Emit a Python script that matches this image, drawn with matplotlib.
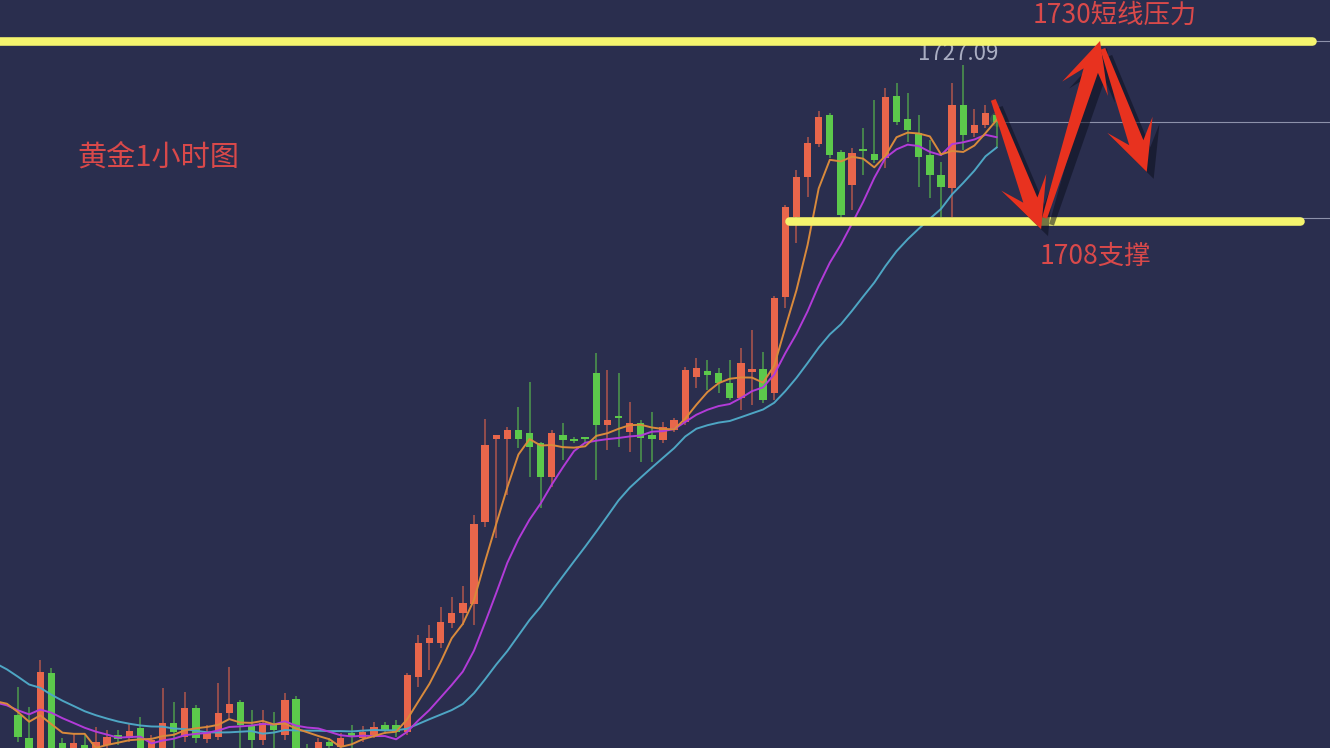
import numpy as np
import pandas as pd
import matplotlib
matplotlib.use('Agg')
import matplotlib.pyplot as plt
import matplotlib.patheffects as pe
from matplotlib.patches import Polygon

plt.rcParams['font.family'] = ['Noto Sans CJK SC', 'DejaVu Sans']
plt.rcParams['axes.unicode_minus'] = False

# 黄金1小时K线：开、高、低、收
opens = [1647.6, 1644.8, 1642.6, 1652.8, 1644.2, 1642.7, 1644.0, 1643.1, 1644.0, 1645.2,
         1644.8, 1646.0, 1643.1, 1643.3, 1646.6, 1644.9, 1648.5, 1644.7, 1644.9, 1647.9,
         1649.2, 1646.4, 1644.6, 1646.4, 1645.2, 1649.6, 1643.6, 1643.1, 1644.3, 1643.7,
         1645.4, 1644.8, 1645.2, 1646.4, 1646.4, 1645.5, 1652.3, 1656.4, 1656.4, 1658.9,
         1660.1, 1661.2, 1671.2, 1681.4, 1681.4, 1682.5, 1682.1, 1680.9, 1676.7, 1681.8,
         1681.4, 1681.4, 1689.4, 1683.1, 1684.2, 1682.2, 1683.3, 1681.8, 1681.2, 1682.5,
         1683.4, 1688.9, 1689.7, 1689.4, 1688.2, 1686.4, 1689.5, 1689.9, 1687.0, 1698.7,
         1708.5, 1713.4, 1717.4, 1720.9, 1716.4, 1712.4, 1716.5, 1716.2, 1715.7, 1723.3,
         1720.5, 1718.7, 1716.1, 1713.6, 1712.0, 1722.2, 1718.7, 1719.7, 1721.0]
highs = [1651.1, 1648.6, 1654.3, 1653.4, 1644.8, 1645.4, 1645.2, 1646.2, 1645.8, 1645.8,
         1646.6, 1647.4, 1645.2, 1650.9, 1649.2, 1650.4, 1648.8, 1646.4, 1651.5, 1653.5,
         1649.5, 1648.2, 1648.2, 1648.0, 1650.3, 1649.9, 1644.1, 1644.8, 1644.8, 1645.4,
         1646.4, 1646.3, 1646.8, 1646.8, 1647.0, 1652.8, 1657.4, 1658.6, 1660.8, 1662.0,
         1663.4, 1672.1, 1683.8, 1681.9, 1682.8, 1685.3, 1688.3, 1681.0, 1682.5, 1683.3,
         1681.6, 1681.6, 1691.9, 1689.8, 1689.4, 1685.9, 1683.7, 1684.7, 1683.4, 1683.9,
         1690.2, 1691.3, 1691.0, 1690.0, 1691.0, 1692.5, 1694.7, 1692.0, 1698.8, 1709.9,
         1714.2, 1718.3, 1721.4, 1721.2, 1716.7, 1716.9, 1719.4, 1722.8, 1724.2, 1724.9,
         1723.6, 1720.9, 1717.9, 1715.2, 1724.9, 1727.09, 1721.7, 1722.2, 1721.9]
lows = [1644.3, 1642.6, 1642.1, 1642.6, 1642.8, 1642.4, 1642.7, 1642.7, 1643.3, 1644.0,
        1644.3, 1643.1, 1642.6, 1643.0, 1643.6, 1644.3, 1644.2, 1644.2, 1644.6, 1647.0,
        1643.3, 1643.3, 1644.0, 1643.3, 1644.6, 1642.7, 1641.9, 1642.6, 1643.1, 1643.1,
        1643.6, 1644.3, 1644.8, 1645.3, 1644.9, 1645.2, 1651.1, 1653.1, 1655.8, 1658.3,
        1658.6, 1658.6, 1670.6, 1669.3, 1674.5, 1680.3, 1676.7, 1672.9, 1675.5, 1678.8,
        1680.9, 1681.0, 1676.3, 1680.0, 1680.4, 1679.8, 1678.5, 1678.5, 1680.9, 1682.2,
        1683.1, 1687.6, 1687.3, 1687.0, 1686.1, 1684.9, 1685.5, 1685.8, 1686.1, 1697.4,
        1705.3, 1710.9, 1717.0, 1715.7, 1708.4, 1709.3, 1713.6, 1715.1, 1714.5, 1719.7,
        1717.6, 1712.1, 1710.8, 1708.5, 1708.5, 1716.7, 1718.3, 1719.4, 1716.9]
closes = [1644.9, 1643.1, 1652.9, 1643.1, 1643.3, 1644.2, 1643.1, 1644.3, 1644.9, 1644.7,
          1645.7, 1643.6, 1644.6, 1646.6, 1645.5, 1648.5, 1644.8, 1645.4, 1647.9, 1649.0,
          1646.4, 1644.6, 1646.6, 1645.8, 1649.5, 1643.3, 1642.4, 1644.3, 1643.8, 1644.8,
          1644.9, 1645.5, 1646.2, 1645.8, 1645.5, 1652.5, 1656.4, 1657.0, 1659.0, 1660.1,
          1661.3, 1671.0, 1680.6, 1681.8, 1682.5, 1681.4, 1680.4, 1676.7, 1682.1, 1681.2,
          1681.1, 1681.2, 1683.1, 1683.7, 1683.9, 1683.3, 1681.5, 1681.4, 1682.8, 1683.7,
          1689.8, 1690.0, 1689.2, 1688.2, 1686.4, 1690.6, 1689.9, 1686.1, 1698.6, 1709.7,
          1713.4, 1717.5, 1720.7, 1716.1, 1708.7, 1716.3, 1716.3, 1715.4, 1723.1, 1720.1,
          1719.1, 1715.8, 1713.6, 1712.1, 1722.2, 1718.5, 1719.7, 1721.2, 1720.1]
# 画面左侧之外的收盘价，只用来算均线
prev_closes = [1663, 1663, 1662, 1661, 1660, 1658, 1657, 1656, 1654, 1653, 1652,
               1651, 1648, 1647, 1647, 1650, 1650, 1649, 1649, 1648.5, 1648.5]

resist = 1730      # 1730短线压力
support = 1708     # 1708支撑
high_label = '1727.09'
# 预测走势：K线序号(往右为未来), 价格
path_bar = [87.7, 92.0, 97.3, 101.5]
path_price = [1722.8, 1707.0, 1730.0, 1714.0]

BG = '#2a2e4e'
RED = '#e8664b'
GREEN = '#5cc94b'
YELLOW = '#f4f46e'
TXT_RED = '#d9494a'
ARROW = '#e8321f'


def draw_candles(ax):
    n = len(closes)
    x = np.arange(n)
    o = np.array(opens)
    c = np.array(closes)
    up = c >= o
    colors = np.where(up, RED, GREEN)
    ax.vlines(x, lows, highs, colors=colors, linewidth=1.1, alpha=0.7, zorder=2)
    h = c - o
    h = np.where(np.abs(h) < 0.25, 0.25, h)
    ax.bar(x, h, bottom=o, width=0.66, color=colors, zorder=3)
    # 最新一根K线的光晕
    ax.scatter([n - 1], [closes[-1] + 0.4], s=110, color=GREEN, alpha=0.25, lw=0, zorder=3)


def draw_ma(ax):
    allc = pd.Series(prev_closes + closes)
    xs = np.arange(-len(prev_closes), len(closes))
    for win, col in [(20, '#4ea6c4'), (10, '#b23bd8'), (5, '#d98a3c')]:
        ax.plot(xs, allc.rolling(win).mean(), color=col, lw=1.4, zorder=4)


def arrow_poly(p0, p1, w0=2.5, w1=7.5, head_len=50, head_w=24):
    p0, p1 = np.array(p0), np.array(p1)
    d = p1 - p0
    u = d / np.hypot(*d)
    nrm = np.array([-u[1], u[0]])
    neck = p1 - u * head_len * 0.62
    base = p1 - u * head_len
    return [p0 + nrm * w0, neck + nrm * w1, base + nrm * head_w, p1,
            base - nrm * head_w, neck - nrm * w1, p0 - nrm * w0]


fig = plt.figure(figsize=(13.3, 7.48), dpi=100)
fig.patch.set_facecolor(BG)
ax = fig.add_axes([0, 0, 1, 1])
ax.set_facecolor(BG)
xmin, xmax = -1.62, 117.98
ax.set_xlim(xmin, xmax)
ax.set_ylim(1643.589, 1735.011)
ax.axis('off')

draw_ma(ax)
draw_candles(ax)

last = len(closes) - 1
ax.hlines([closes[-1], resist, support + 0.4], last, xmax, color='#8d91aa', lw=0.8, zorder=1)

# 压力 / 支撑线
ax.plot([xmin - 2, 116.4], [resist, resist], color=YELLOW, lw=6.2, solid_capstyle='round', zorder=5)
ax.plot([69.3, 115.3], [support, support], color=YELLOW, lw=6.2, solid_capstyle='round', zorder=5)

ax.annotate(high_label, (85, highs[85]), xytext=(-5, 11), textcoords='offset pixels',
            ha='center', va='center', fontsize=16, color='#a9adc2', zorder=4)

ax.text(0.058, 0.789, '黄金1小时图', transform=ax.transAxes, fontsize=21,
        color=TXT_RED, ha='left', va='center')
ax.text(98.65, 1733.1, f'{resist}短线压力', fontsize=19, color=TXT_RED,
        ha='center', va='center')
ax.text(96.9, 1703.7, f'{support}支撑', fontsize=19, color=TXT_RED,
        ha='center', va='center')

# 红色折线箭头
pts = ax.transData.transform(np.column_stack([path_bar, path_price]))
for k in range(len(pts) - 1):
    p0, p1 = pts[k], pts[k + 1]
    if k > 0:
        p0 = p0 + (p1 - p0) * 0.06
    poly = Polygon(arrow_poly(p0, p1), closed=True, transform=None,
                   facecolor=ARROW, edgecolor='none', zorder=6)
    poly.set_path_effects([pe.SimplePatchShadow(offset=(5, -5), shadow_rgbFace='#0c0f1e', alpha=0.55),
                           pe.Normal()])
    fig.add_artist(poly)

fig.savefig('out.png', dpi=100, facecolor=BG)
